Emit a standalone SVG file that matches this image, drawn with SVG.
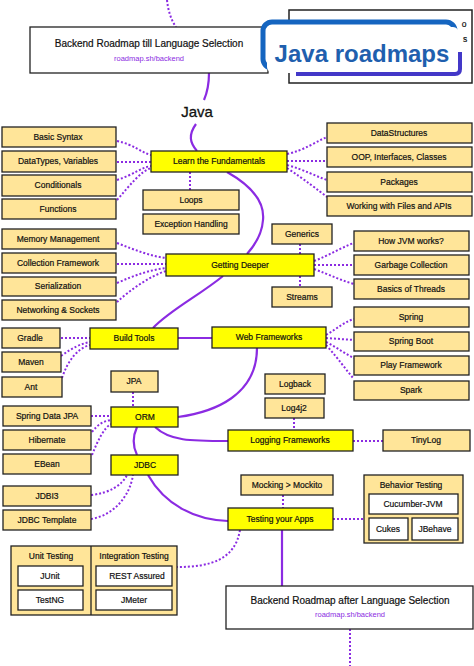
<svg xmlns="http://www.w3.org/2000/svg" width="474" height="666" viewBox="0 0 474 666">
<style>
.sub{fill:#ffe599;stroke:#222;stroke-width:1.3}
.top{fill:#ffff00;stroke:#222;stroke-width:1.3}
.wb{fill:#fff;stroke:#222;stroke-width:1.3}
.t{font-family:"Liberation Sans",Arial,sans-serif;font-size:8.5px;fill:#111;stroke:#111;stroke-width:0.2;text-anchor:middle}
.big{font-family:"Liberation Sans",Arial,sans-serif;font-size:10px;fill:#111;stroke:#111;stroke-width:0.2;text-anchor:middle}
.link{font-family:"Liberation Sans",Arial,sans-serif;font-size:7.5px;fill:#8b2be2;text-anchor:middle}
.dot{fill:none;stroke:#8b2be2;stroke-width:2;stroke-dasharray:2 2}
.main{fill:none;stroke:#8b2be2;stroke-width:2.2}
</style>
<rect width="474" height="666" fill="#fff"/>
<g id="connectors">
<path class="dot" d="M167,0 C168,10 171,20 176,27"/>
<path class="main" d="M209,73 C209,85 207,93 204,100"/>
<path class="main" d="M196,124 C188,135 190,143 197,151"/>
<path class="main" d="M227,172 C250,185 265,200 263,220 C262,235 255,245 247,254"/>
<path class="main" d="M223,276 C200,295 170,310 153,328"/>
<path class="main" d="M178,338 L212,338"/>
<path class="main" d="M257,348 C257,395 215,412 178,417"/>
<path class="main" d="M137,427 C132,438 133,447 137,455"/>
<path class="main" d="M155,427 C170,441 190,441 228,441"/>
<path class="main" d="M148,475 C165,505 195,520 228,521"/>
<path class="main" d="M282,530 L282,586"/>
<path class="dot" d="M350,629 L350,666"/>
<path class="dot" d="M117,141 C135,145 140,152 151,155"/>
<path class="dot" d="M117,162 L151,162"/>
<path class="dot" d="M117,180 C135,174 140,168 151,166"/>
<path class="dot" d="M117,200 C130,185 140,172 151,168"/>
<path class="dot" d="M287,154 C305,150 315,142 327,137"/>
<path class="dot" d="M287,161 L327,161"/>
<path class="dot" d="M287,165 C305,170 315,176 327,180"/>
<path class="dot" d="M287,168 C305,180 318,190 327,197"/>
<path class="dot" d="M190,172 L190,190"/>
<path class="dot" d="M117,243 C135,250 150,256 166,258"/>
<path class="dot" d="M117,264 L166,264"/>
<path class="dot" d="M117,283 C135,275 150,270 166,268"/>
<path class="dot" d="M117,302 C130,290 150,276 166,271"/>
<path class="dot" d="M300,244 L300,254"/>
<path class="dot" d="M300,276 L300,287"/>
<path class="dot" d="M314,261 C330,255 340,248 354,243"/>
<path class="dot" d="M314,265 L354,265"/>
<path class="dot" d="M314,269 C330,275 340,280 354,284"/>
<path class="dot" d="M61,338 L90,338"/>
<path class="dot" d="M61,356 C72,348 80,344 90,342"/>
<path class="dot" d="M62,378 C68,360 78,348 90,345"/>
<path class="dot" d="M326,335 C338,328 344,322 354,319"/>
<path class="dot" d="M326,338 L354,340"/>
<path class="dot" d="M326,342 C338,348 345,354 354,358"/>
<path class="dot" d="M326,345 C338,358 346,370 354,379"/>
<path class="dot" d="M133,392 L133,407"/>
<path class="dot" d="M91,416 L111,416"/>
<path class="dot" d="M92,432 C98,424 104,421 111,420"/>
<path class="dot" d="M92,455 C98,440 104,428 111,424"/>
<path class="dot" d="M91,495 C110,493 122,485 127,475"/>
<path class="dot" d="M91,519 C115,515 130,495 133,475"/>
<path class="dot" d="M294,418 L294,430"/>
<path class="dot" d="M353,441 L383,441"/>
<path class="dot" d="M283,495 L283,508"/>
<path class="dot" d="M333,519 L364,519"/>
<path class="dot" d="M240,530 C235,560 210,567 177,567"/>
</g>
<g id="backend-start">
<rect class="wb" x="30" y="27" width="238" height="46"/>
<text class="big" x="149" y="47">Backend Roadmap till Language Selection</text>
<text class="link" x="149" y="61">roadmap.sh/backend</text>
</g>
<g id="java-roadmaps">
<rect x="289" y="10" width="183" height="73" fill="#fff" stroke="#222" stroke-width="1.5"/>
<text class="t" x="464" y="27">o</text>
<text class="t" x="465" y="42">s</text>
<rect x="263" y="22" width="192" height="46" rx="9" fill="#fff" stroke="#1565c0" stroke-width="5"/>
<rect x="267" y="27" width="192" height="46" rx="6" fill="#fff"/>
<path d="M296,74 L455,74 Q460,74 460,69 L460,52" fill="none" stroke="#4338c8" stroke-width="4"/>
<text x="362" y="62" font-family="Liberation Sans,Arial,sans-serif" font-size="24" font-weight="bold" fill="#1f5fae" text-anchor="middle">Java roadmaps</text>
</g>
<g id="java-label"><text x="197" y="117" font-family="Liberation Sans,Arial,sans-serif" font-size="15" fill="#111" stroke="#111" stroke-width="0.3" text-anchor="middle">Java</text></g>
<g id="learn"><rect class="top" x="151" y="151" width="136" height="21"/><text class="t" x="219" y="164">Learn the Fundamentals</text></g>
<g id="basic-syntax"><rect class="sub" x="2" y="127" width="114" height="20"/><text class="t" x="58" y="140">Basic Syntax</text></g>
<g id="datatypes"><rect class="sub" x="2" y="151" width="114" height="21"/><text class="t" x="58" y="164">DataTypes, Variables</text></g>
<g id="conditionals"><rect class="sub" x="2" y="175" width="114" height="21"/><text class="t" x="58" y="188">Conditionals</text></g>
<g id="functions"><rect class="sub" x="2" y="199" width="114" height="20"/><text class="t" x="58" y="212">Functions</text></g>
<g id="loops"><rect class="sub" x="143" y="190" width="96" height="20"/><text class="t" x="191" y="203">Loops</text></g>
<g id="exception"><rect class="sub" x="143" y="214" width="96" height="20"/><text class="t" x="191" y="227">Exception Handling</text></g>
<g id="datastructures"><rect class="sub" x="327" y="123" width="145" height="20"/><text class="t" x="399" y="136">DataStructures</text></g>
<g id="oop"><rect class="sub" x="327" y="147" width="145" height="20"/><text class="t" x="399" y="160">OOP, Interfaces, Classes</text></g>
<g id="packages"><rect class="sub" x="327" y="172" width="145" height="20"/><text class="t" x="399" y="185">Packages</text></g>
<g id="files"><rect class="sub" x="327" y="196" width="145" height="20"/><text class="t" x="399" y="209">Working with Files and APIs</text></g>
<g id="deeper"><rect class="top" x="166" y="254" width="148" height="22"/><text class="t" x="240" y="268">Getting Deeper</text></g>
<g id="generics"><rect class="sub" x="272" y="224" width="60" height="20"/><text class="t" x="302" y="237">Generics</text></g>
<g id="streams"><rect class="sub" x="272" y="287" width="60" height="20"/><text class="t" x="302" y="300">Streams</text></g>
<g id="memory"><rect class="sub" x="2" y="229" width="114" height="20"/><text class="t" x="58" y="242">Memory Management</text></g>
<g id="collection"><rect class="sub" x="2" y="253" width="114" height="20"/><text class="t" x="58" y="266">Collection Framework</text></g>
<g id="serialization"><rect class="sub" x="2" y="277" width="114" height="19"/><text class="t" x="58" y="289">Serialization</text></g>
<g id="networking"><rect class="sub" x="2" y="300" width="114" height="20"/><text class="t" x="58" y="313">Networking &amp; Sockets</text></g>
<g id="jvm"><rect class="sub" x="354" y="231" width="115" height="20"/><text class="t" x="411" y="244">How JVM works?</text></g>
<g id="gc"><rect class="sub" x="354" y="255" width="115" height="20"/><text class="t" x="411" y="268">Garbage Collection</text></g>
<g id="threads"><rect class="sub" x="354" y="279" width="115" height="20"/><text class="t" x="411" y="292">Basics of Threads</text></g>
<g id="build-tools"><rect class="top" x="90" y="328" width="88" height="21"/><text class="t" x="134" y="341">Build Tools</text></g>
<g id="gradle"><rect class="sub" x="2" y="328" width="58" height="20"/><text class="t" x="30" y="341">Gradle</text></g>
<g id="maven"><rect class="sub" x="2" y="352" width="59" height="20"/><text class="t" x="31" y="365">Maven</text></g>
<g id="ant"><rect class="sub" x="2" y="377" width="60" height="20"/><text class="t" x="31" y="390">Ant</text></g>
<g id="web"><rect class="top" x="212" y="327" width="114" height="21"/><text class="t" x="269" y="340">Web Frameworks</text></g>
<g id="spring"><rect class="sub" x="354" y="307" width="115" height="20"/><text class="t" x="411" y="320">Spring</text></g>
<g id="spring-boot"><rect class="sub" x="354" y="332" width="115" height="19"/><text class="t" x="411" y="344">Spring Boot</text></g>
<g id="play"><rect class="sub" x="354" y="356" width="115" height="19"/><text class="t" x="411" y="368">Play Framework</text></g>
<g id="spark"><rect class="sub" x="354" y="381" width="115" height="19"/><text class="t" x="411" y="393">Spark</text></g>
<g id="jpa"><rect class="sub" x="111" y="371" width="47" height="21"/><text class="t" x="134" y="384">JPA</text></g>
<g id="orm"><rect class="top" x="111" y="407" width="67" height="20"/><text class="t" x="145" y="420">ORM</text></g>
<g id="jdbc"><rect class="top" x="111" y="455" width="67" height="20"/><text class="t" x="145" y="468">JDBC</text></g>
<g id="spring-data"><rect class="sub" x="3" y="406" width="88" height="20"/><text class="t" x="47" y="419">Spring Data JPA</text></g>
<g id="hibernate"><rect class="sub" x="3" y="430" width="88" height="20"/><text class="t" x="47" y="443">Hibernate</text></g>
<g id="ebean"><rect class="sub" x="3" y="454" width="88" height="20"/><text class="t" x="47" y="467">EBean</text></g>
<g id="jdbi3"><rect class="sub" x="3" y="486" width="88" height="20"/><text class="t" x="47" y="499">JDBI3</text></g>
<g id="jdbc-template"><rect class="sub" x="3" y="510" width="88" height="20"/><text class="t" x="47" y="523">JDBC Template</text></g>
<g id="logback"><rect class="sub" x="265" y="374" width="60" height="20"/><text class="t" x="295" y="387">Logback</text></g>
<g id="log4j2"><rect class="sub" x="265" y="398" width="59" height="20"/><text class="t" x="294" y="411">Log4j2</text></g>
<g id="logging"><rect class="top" x="228" y="430" width="125" height="21"/><text class="t" x="290" y="443">Logging Frameworks</text></g>
<g id="tinylog"><rect class="sub" x="383" y="430" width="87" height="21"/><text class="t" x="426" y="443">TinyLog</text></g>
<g id="mocking"><rect class="sub" x="241" y="475" width="92" height="20"/><text class="t" x="287" y="488">Mocking  &gt;  Mockito</text></g>
<g id="testing"><rect class="top" x="228" y="508" width="105" height="22"/><text class="t" x="280" y="522">Testing your Apps</text></g>
<g id="behavior">
<rect class="sub" x="364" y="475" width="99" height="68"/>
<text class="t" x="411" y="488">Behavior Testing</text>
<rect class="wb" x="369" y="494" width="89" height="20"/><text class="t" x="413" y="507">Cucumber-JVM</text>
<rect class="wb" x="369" y="518" width="39" height="22"/><text class="t" x="388" y="532">Cukes</text>
<rect class="wb" x="412" y="518" width="46" height="22"/><text class="t" x="435" y="532">JBehave</text>
</g>
<g id="unit-integration">
<rect class="sub" x="11" y="546" width="166" height="69"/>
<line x1="91" y1="546" x2="91" y2="615" stroke="#222" stroke-width="1.3"/>
<text class="t" x="51" y="559">Unit Testing</text>
<text class="t" x="134" y="559">Integration Testing</text>
<rect class="wb" x="18" y="566" width="65" height="20"/><text class="t" x="50" y="579">JUnit</text>
<rect class="wb" x="18" y="590" width="65" height="20"/><text class="t" x="50" y="603">TestNG</text>
<rect class="wb" x="96" y="566" width="76" height="20"/><text class="t" x="137" y="579">REST Assured</text>
<rect class="wb" x="96" y="590" width="76" height="20"/><text class="t" x="134" y="603">JMeter</text>
</g>
<g id="backend-after">
<rect class="wb" x="226" y="586" width="247" height="43"/>
<text class="big" x="350" y="604" font-size="10.5">Backend Roadmap after Language Selection</text>
<text class="link" x="350" y="617">roadmap.sh/backend</text>
</g>
</svg>
